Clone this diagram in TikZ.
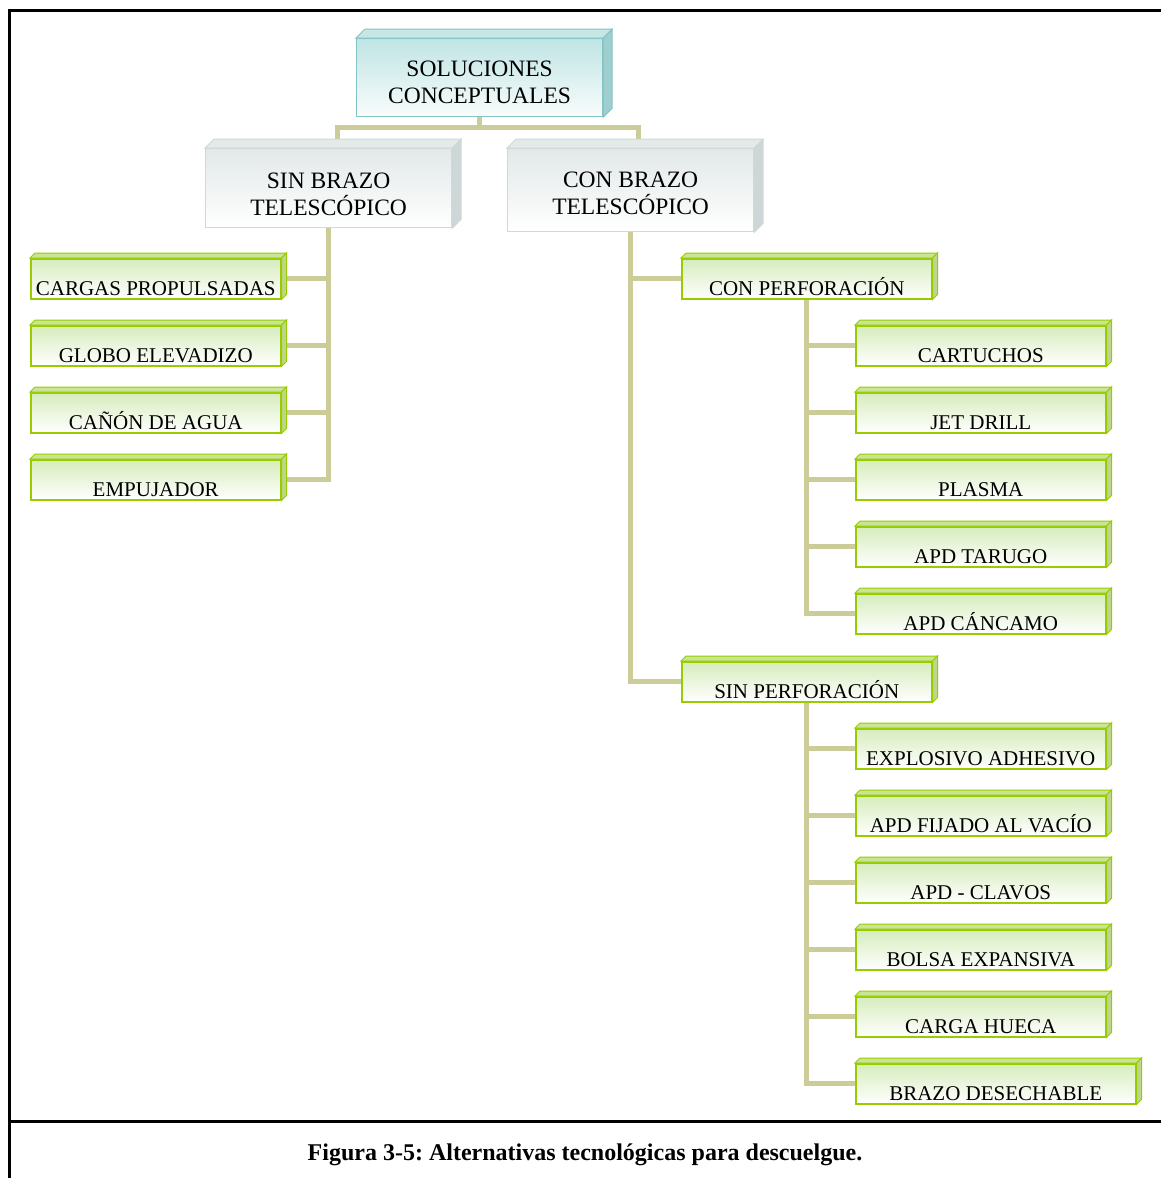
\documentclass[tikz,border=0pt]{standalone}
\usepackage{fontspec}
\setmainfont{Liberation Serif}
\usetikzlibrary{calc}
\pgfdeclarelayer{bg}
\pgfsetlayers{bg,main}
\frenchspacing

% palette
\definecolor{tanline}{RGB}{204,204,153}
\definecolor{grnB}{RGB}{153,204,0}
\definecolor{grnT}{RGB}{214,236,188}
\definecolor{grnTop}{RGB}{200,228,150}
\definecolor{grnSide}{RGB}{190,214,140}
\definecolor{gryB}{RGB}{208,216,216}
\definecolor{gryT}{RGB}{226,232,232}
\definecolor{gryTop}{RGB}{228,234,234}
\definecolor{grySide}{RGB}{205,215,215}
\definecolor{tealB}{RGB}{130,196,196}
\definecolor{tealT}{RGB}{192,228,228}
\definecolor{tealTop}{RGB}{200,230,230}
\definecolor{tealSide}{RGB}{160,206,206}

% 3-D rim on the top and right side of a box
\newcommand\rimbox[5]{%
  \path[draw=#5, line width=1pt, fill=#3]
    (#1.north west) -- ++(#2,-#2) -- ([shift={(#2,-#2)}]#1.north east) -- (#1.north east) -- cycle;
  \path[draw=#5, line width=1pt, fill=#4]
    (#1.north east) -- ++(#2,-#2) -- ([shift={(#2,-#2)}]#1.south east) -- (#1.south east) -- cycle;
}

\tikzset{
  conn/.style={draw=tanline, line width=5pt},
  leaf/.style={draw=grnB, line width=1.5pt, top color=grnT, bottom color=white,
    minimum width=250pt, minimum height=40pt, inner sep=0pt, anchor=north west},
  leaftext/.style={anchor=base, inner sep=0pt, font=\fontsize{21}{24}\selectfont},
  head/.style={draw=gryB, line width=1.2pt, top color=gryT, bottom color=white,
    minimum width=246pt, inner sep=0pt, anchor=north west},
  rootbox/.style={draw=tealB, line width=1.2pt, top color=tealT, bottom color=white!90!tealT,
    minimum width=246pt, minimum height=78pt, inner sep=0pt, anchor=north west},
  headtext/.style={inner sep=0pt, align=center, font=\fontsize{23.5}{27}\selectfont},
}

\begin{document}
\begin{tikzpicture}[x=1pt,y=-1pt]
\useasboundingbox (0,0) rectangle (1161,1178);

% frame and caption rule
\draw[line width=3pt] (1161,10) -- (9,10) -- (9,1178);
\draw[line width=3pt] (9,1121) -- (1161,1121);
\node[font=\bfseries\fontsize{24}{27}\selectfont, inner sep=0pt, anchor=base] (cap) at (585,1160)
  {Figura 3-5: Alternativas tecnológicas para descuelgue.};

% root and the two main branches
\node[rootbox] (sol) at (356,38) {};
\rimbox{sol}{9}{tealTop}{tealSide}{tealB}
\node[headtext] (sol-t) at ([yshift=-5pt]sol.center) {SOLUCIONES\\CONCEPTUALES};

\node[head, minimum height=79pt] (sin) at (205,148) {};
\rimbox{sin}{9}{gryTop}{grySide}{gryB}
\node[headtext] (sin-t) at ([yshift=-6pt]sin.center) {SIN BRAZO\\TELESCÓPICO};

\node[head, minimum height=83pt] (con) at (507,148) {};
\rimbox{con}{9}{gryTop}{grySide}{gryB}
\node[headtext] (con-t) at ([yshift=-3pt]con.center) {CON BRAZO\\TELESCÓPICO};

% leaf boxes: name, x, y, width, text
\foreach \n/\x/\y/\w/\t in {
  cp/30/258/250/CARGAS PROPULSADAS,
  ge/30/325/250/GLOBO ELEVADIZO,
  ca/30/392/250/CAÑÓN DE AGUA,
  em/30/459/250/EMPUJADOR,
  conp/681/258/250/CON PERFORACIÓN,
  car/855/325/250/CARTUCHOS,
  jet/855/392/250/JET DRILL,
  pla/855/459/250/PLASMA,
  tar/855/526/250/APD TARUGO,
  canc/855/593/250/APD CÁNCAMO,
  sinp/681/661/250/SIN PERFORACIÓN,
  exp/855/728/250/EXPLOSIVO ADHESIVO,
  vac/855/795/250/APD FIJADO AL VACÍO,
  cla/855/862/250/APD - CLAVOS,
  bol/855/929/250/BOLSA EXPANSIVA,
  hue/855/996/250/CARGA HUECA,
  bra/855/1063/280/BRAZO DESECHABLE}{
  \node[leaf, minimum width=\w pt] (\n) at (\x,\y) {};
  \rimbox{\n}{5}{grnTop}{grnSide}{grnB}
  \node[leaftext] (\n-t) at ([yshift=4pt]\n.south) {\t};
}

% connectors
\begin{pgfonlayer}{bg}
  \coordinate (j) at (479,127);
  \draw[conn] (sol.south) -- (sol.south |- j);
  \draw[conn] ([xshift=9pt]sin.north) |- ([xshift=8pt]con.north |- j) -- ([xshift=8pt]con.north);

  \draw[conn] (sin.south) |- (em.east);
  \foreach \n in {cp,ge,ca} \draw[conn] (\n.east) -- (\n.east -| sin.south);

  \draw[conn] (con.south) |- (sinp.west);
  \draw[conn] (conp.west) -- (conp.west -| con.south);

  \draw[conn] (conp.south) |- (canc.west);
  \foreach \n in {car,jet,pla,tar} \draw[conn] (\n.west) -- (\n.west -| conp.south);

  \draw[conn] (sinp.south) |- (bra.west);
  \foreach \n in {exp,vac,cla,bol,hue} \draw[conn] (\n.west) -- (\n.west -| sinp.south);
\end{pgfonlayer}
\end{tikzpicture}
\end{document}
